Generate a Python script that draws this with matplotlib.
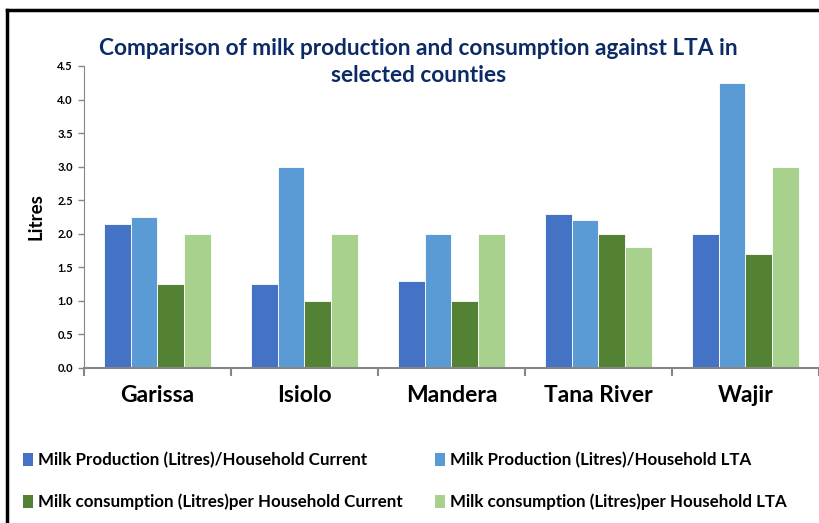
import matplotlib.pyplot as plt
import numpy as np
from matplotlib.lines import Line2D
from matplotlib.patches import Patch

# ---------------- data ----------------
counties = ['Garissa', 'Isiolo', 'Mandera', 'Tana River', 'Wajir']
prod_current = [2.15, 1.25, 1.3, 2.3, 2.0]
prod_lta = [2.25, 3.0, 2.0, 2.2, 4.25]
cons_current = [1.25, 1.0, 1.0, 2.0, 1.7]
cons_lta = [2.0, 2.0, 2.0, 1.8, 3.0]

series_names = ['Milk Production (Litres)/Household Current',
                'Milk Production (Litres)/Household LTA',
                'Milk consumption (Litres)per Household Current',
                'Milk consumption (Litres)per Household LTA']
colors = ['#4472C4', '#5B9BD5', '#548235', '#A9D18E']

plt.rcParams['font.family'] = ['Lato', 'DejaVu Sans']

fig = plt.figure(figsize=(8.2, 5.23), dpi=100)
ax = fig.add_axes([84 / 820, 1 - 368 / 523, 735 / 820, 302 / 523])

x = np.arange(len(counties))
w = 0.182
series = [prod_current, prod_lta, cons_current, cons_lta]
for i, vals in enumerate(series):
    ax.bar(x + (i - 1.5) * w, vals, width=w, color=colors[i],
           edgecolor='white', linewidth=0.6, label=series_names[i])

ax.set_xlim(-0.5, len(counties) - 0.5)
ax.set_ylim(0, 4.5)
ax.set_yticks(np.arange(0, 4.51, 0.5))
ax.set_yticklabels(['%.1f' % v for v in np.arange(0, 4.51, 0.5)],
                   fontsize=8, fontweight='bold')
ax.set_xticks(x)
ax.set_xticklabels(counties, fontsize=16.5, fontweight='bold')
ax.set_xticks(np.arange(-0.5, len(counties)), minor=True)
ax.tick_params(axis='x', which='major', length=0, pad=12)
ax.tick_params(axis='x', which='minor', length=6, color='#868686', width=1.5)
ax.tick_params(axis='y', length=4, color='#868686', width=1, pad=4)

for s in ['top', 'right']:
    ax.spines[s].set_visible(False)
ax.spines['left'].set_color('#868686')
ax.spines['bottom'].set_color('#868686')
ax.spines['bottom'].set_linewidth(1.5)

ax.set_ylabel('Litres', fontsize=13.5, fontweight='bold')
ax.yaxis.set_label_coords(-0.054, 0.5)

title_color = '#0B2A66'
fig.text(0.51, 0.908, 'Comparison of milk production and consumption against LTA in',
         ha='center', va='center', fontsize=16.3, fontweight='bold', color=title_color)
fig.text(0.51, 0.855, 'selected counties',
         ha='center', va='center', fontsize=16.3, fontweight='bold', color=title_color)

# legend in two fixed columns
h = [Patch(facecolor=c) for c in colors]
legend_font = {'weight': 'bold', 'size': 12.2}
leg1 = fig.legend([h[0], h[2]], [series_names[0], series_names[2]],
                  loc='upper left', bbox_to_anchor=(0.009, 0.165), frameon=False,
                  prop=legend_font, handlelength=0.6, handleheight=0.75,
                  handletextpad=0.3, labelspacing=1.5)
leg2 = fig.legend([h[1], h[3]], [series_names[1], series_names[3]],
                  loc='upper left', bbox_to_anchor=(0.512, 0.165), frameon=False,
                  prop=legend_font, handlelength=0.6, handleheight=0.75,
                  handletextpad=0.3, labelspacing=1.5)

# frame lines (top and left only)
fig.add_artist(Line2D([7 / 820, 1], [1 - 10 / 523, 1 - 10 / 523], color='black', lw=2.5))
fig.add_artist(Line2D([7 / 820, 7 / 820], [0, 1 - 10 / 523], color='black', lw=2.5))

fig.savefig('out.png', dpi=100)
